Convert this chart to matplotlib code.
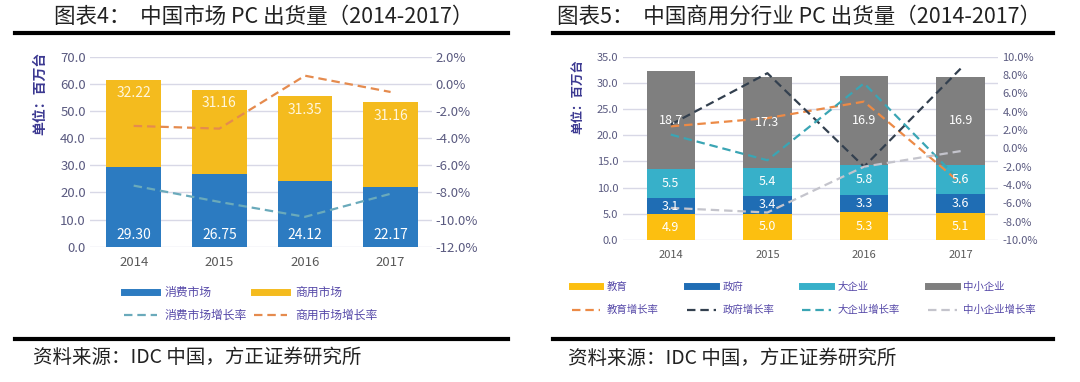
import matplotlib
matplotlib.use("Agg")
import matplotlib.pyplot as plt
from matplotlib.lines import Line2D
from matplotlib.ticker import FuncFormatter, MultipleLocator

plt.rcParams['font.family'] = ['Noto Sans CJK SC', 'DejaVu Sans']

# ---- data: chart 4 (China PC shipments, million units) ----
years = ['2014', '2015', '2016', '2017']
consumer = [29.30, 26.75, 24.12, 22.17]
commercial = [32.22, 31.16, 31.35, 31.16]
consumer_growth = [-7.5, -8.7, -9.8, -8.1]
commercial_growth = [-3.1, -3.3, 0.6, -0.6]

# ---- data: chart 5 (commercial PC by industry) ----
education = [4.9, 5.0, 5.3, 5.1]
government = [3.1, 3.4, 3.3, 3.6]
large_ent = [5.5, 5.4, 5.8, 5.6]
smb = [18.7, 17.3, 16.9, 16.9]
education_growth = [2.4, 3.3, 5.1, -3.8]
government_growth = [2.6, 8.2, -2.0, 8.7]
large_growth = [1.5, -1.3, 7.1, -3.6]
smb_growth = [-6.5, -7.0, -2.0, -0.3]

TICK_C = '#5a5a80'
LEG_C = '#5548a8'
UNIT_C = '#3b3891'
GRID_C = '#d8d8e6'
DASH = (3.8, 2.2)

fig = plt.figure(figsize=(10.8, 3.82), dpi=100)


def style_axes(ax, ax2, fs):
    for a in (ax, ax2):
        for s in a.spines.values():
            s.set_visible(False)
        a.tick_params(length=0, labelsize=fs, labelcolor=TICK_C)
    ax.tick_params(axis='y', pad=3)
    ax2.tick_params(axis='y', pad=3)
    ax.tick_params(axis='x', pad=7, labelcolor='#595959')
    ax.grid(axis='y', color=GRID_C, lw=1)
    ax.set_axisbelow(True)
    ax.yaxis.set_major_formatter(FuncFormatter(lambda v, p: f'{v:.1f}'))
    ax2.yaxis.set_major_formatter(FuncFormatter(lambda v, p: f'{v:.1f}%'))


def frame_lines(x0, x1):
    # thick rules under the title and above the source note
    fig.add_artist(Line2D([x0 / 1080, x1 / 1080], [1 - 33 / 382] * 2, color='black', lw=3))
    fig.add_artist(Line2D([x0 / 1080, x1 / 1080], [1 - 338.5 / 382] * 2, color='black', lw=3))


# ================= chart 4 =================
x = list(range(len(years)))
ax1 = fig.add_axes([90 / 1080, 1 - 246.7 / 382, (431.7 - 90) / 1080, (246.7 - 56.7) / 382])
ax1b = ax1.twinx()
blue, yellow = '#2c7bc1', '#f4bb1e'
ax1.bar(x, consumer, width=0.635, color=blue)
ax1.bar(x, commercial, width=0.635, bottom=consumer, color=yellow)
for i in x:
    ax1.text(i, 4.3, f'{consumer[i]:.2f}', ha='center', va='center', color='white', fontsize=10)
    ax1.text(i, consumer[i] + commercial[i] - 5, f'{commercial[i]:.2f}', ha='center', va='center',
             color='#fff6dc', fontsize=10)
ax1b.plot(x, consumer_growth, color='#6aaabb', lw=1.6, dashes=DASH)
ax1b.plot(x, commercial_growth, color='#e58b4e', lw=1.6, dashes=DASH)
ax1.set_xlim(-0.51, 3.48)
ax1.set_ylim(0, 70)
ax1.yaxis.set_major_locator(MultipleLocator(10))
ax1b.set_ylim(-12, 2)
ax1b.yaxis.set_major_locator(MultipleLocator(2))
ax1.set_xticks(x, years)
style_axes(ax1, ax1b, 9.5)

fig.text(40 / 1080, 1 - 93 / 382, '单位：百万台', rotation=90, ha='center', va='center',
         color=UNIT_C, fontsize=10, fontweight='semibold')
fig.text(264 / 1080, 1 - 17 / 382, '图表4：  中国市场 PC 出货量（2014-2017）', ha='center', va='center',
         fontsize=15.5, color='#222222')
frame_lines(15, 508)

h1 = [Line2D([], [], color=blue, lw=5), Line2D([], [], color='#6aaabb', lw=1.6, dashes=DASH),
      Line2D([], [], color=yellow, lw=5), Line2D([], [], color='#e58b4e', lw=1.6, dashes=DASH)]
l1 = ['消费市场', '消费市场增长率', '商用市场', '商用市场增长率']
fig.legend(h1, l1, ncol=2, loc='upper left', bbox_to_anchor=(124 / 1080, 1 - 286 / 382),
           frameon=False, fontsize=8.5, labelcolor=LEG_C, handlelength=2.8, handletextpad=0.65,
           columnspacing=0.6, labelspacing=0.85, borderpad=0, borderaxespad=0)
fig.text(33 / 1080, 1 - 357 / 382, '资料来源：IDC 中国，方正证券研究所', ha='left', va='center',
         fontsize=14, style='italic', color='#222222')

# ================= chart 5 =================
ax2 = fig.add_axes([622.5 / 1080, 1 - 240 / 382, (998.3 - 622.5) / 1080, (240 - 56.7) / 382])
ax2b = ax2.twinx()
c_edu, c_gov, c_large, c_smb = '#fcbf10', '#1f6db4', '#37b0c9', '#7f7f7f'
b1 = education
b2 = [a + b for a, b in zip(b1, government)]
b3 = [a + b for a, b in zip(b2, large_ent)]
ax2.bar(x, education, width=0.5, color=c_edu)
ax2.bar(x, government, width=0.5, bottom=b1, color=c_gov)
ax2.bar(x, large_ent, width=0.5, bottom=b2, color=c_large)
ax2.bar(x, smb, width=0.5, bottom=b3, color=c_smb)
ax2b.plot(x, education_growth, color='#ec8a46', lw=1.6, dashes=DASH, zorder=3)
ax2b.plot(x, government_growth, color='#33404f', lw=1.6, dashes=DASH, zorder=3)
ax2b.plot(x, large_growth, color='#3aa5b4', lw=1.6, dashes=DASH, zorder=3)
ax2b.plot(x, smb_growth, color='#c4c4cc', lw=1.6, dashes=DASH, zorder=3)
# labels drawn on top of the growth lines
for i in x:
    for val, base in ((education[i], 0), (government[i], b1[i]), (large_ent[i], b2[i]), (smb[i], b3[i])):
        ax2b.annotate(f'{val:.1f}', xy=(i, base + val / 2), xycoords=('data', ax2.transData),
                      ha='center', va='center', color='white', fontsize=9, zorder=5)
ax2.set_xlim(-0.5, 3.39)
ax2.set_ylim(0, 35)
ax2.yaxis.set_major_locator(MultipleLocator(5))
ax2b.set_ylim(-10, 10)
ax2b.yaxis.set_major_locator(MultipleLocator(2))
ax2.set_xticks(x, years)
style_axes(ax2, ax2b, 8)

fig.text(578 / 1080, 1 - 97 / 382, '单位：百万台', rotation=90, ha='center', va='center',
         color=UNIT_C, fontsize=9, fontweight='semibold')
fig.text(799 / 1080, 1 - 17 / 382, '图表5：  中国商用分行业 PC 出货量（2014-2017）', ha='center', va='center',
         fontsize=15.5, color='#222222')
frame_lines(553, 1053)

h2 = [Line2D([], [], color=c_edu, lw=5), Line2D([], [], color='#ec8a46', lw=1.6, dashes=DASH),
      Line2D([], [], color=c_gov, lw=5), Line2D([], [], color='#33404f', lw=1.6, dashes=DASH),
      Line2D([], [], color=c_large, lw=5), Line2D([], [], color='#3aa5b4', lw=1.6, dashes=DASH),
      Line2D([], [], color=c_smb, lw=5), Line2D([], [], color='#c4c4cc', lw=1.6, dashes=DASH)]
l2 = ['教育', '教育增长率', '政府', '政府增长率', '大企业', '大企业增长率', '中小企业', '中小企业增长率']
fig.legend(h2, l2, ncol=4, loc='upper left', bbox_to_anchor=(571.7 / 1080, 1 - 282 / 382),
           frameon=False, fontsize=7.5, labelcolor=LEG_C, handlelength=2.75, handletextpad=0.64,
           columnspacing=2.7, labelspacing=1.25, borderpad=0, borderaxespad=0)
fig.text(568 / 1080, 1 - 358 / 382, '资料来源：IDC 中国，方正证券研究所', ha='left', va='center',
         fontsize=14, style='italic', color='#222222')

fig.savefig('out.png', dpi=100)
